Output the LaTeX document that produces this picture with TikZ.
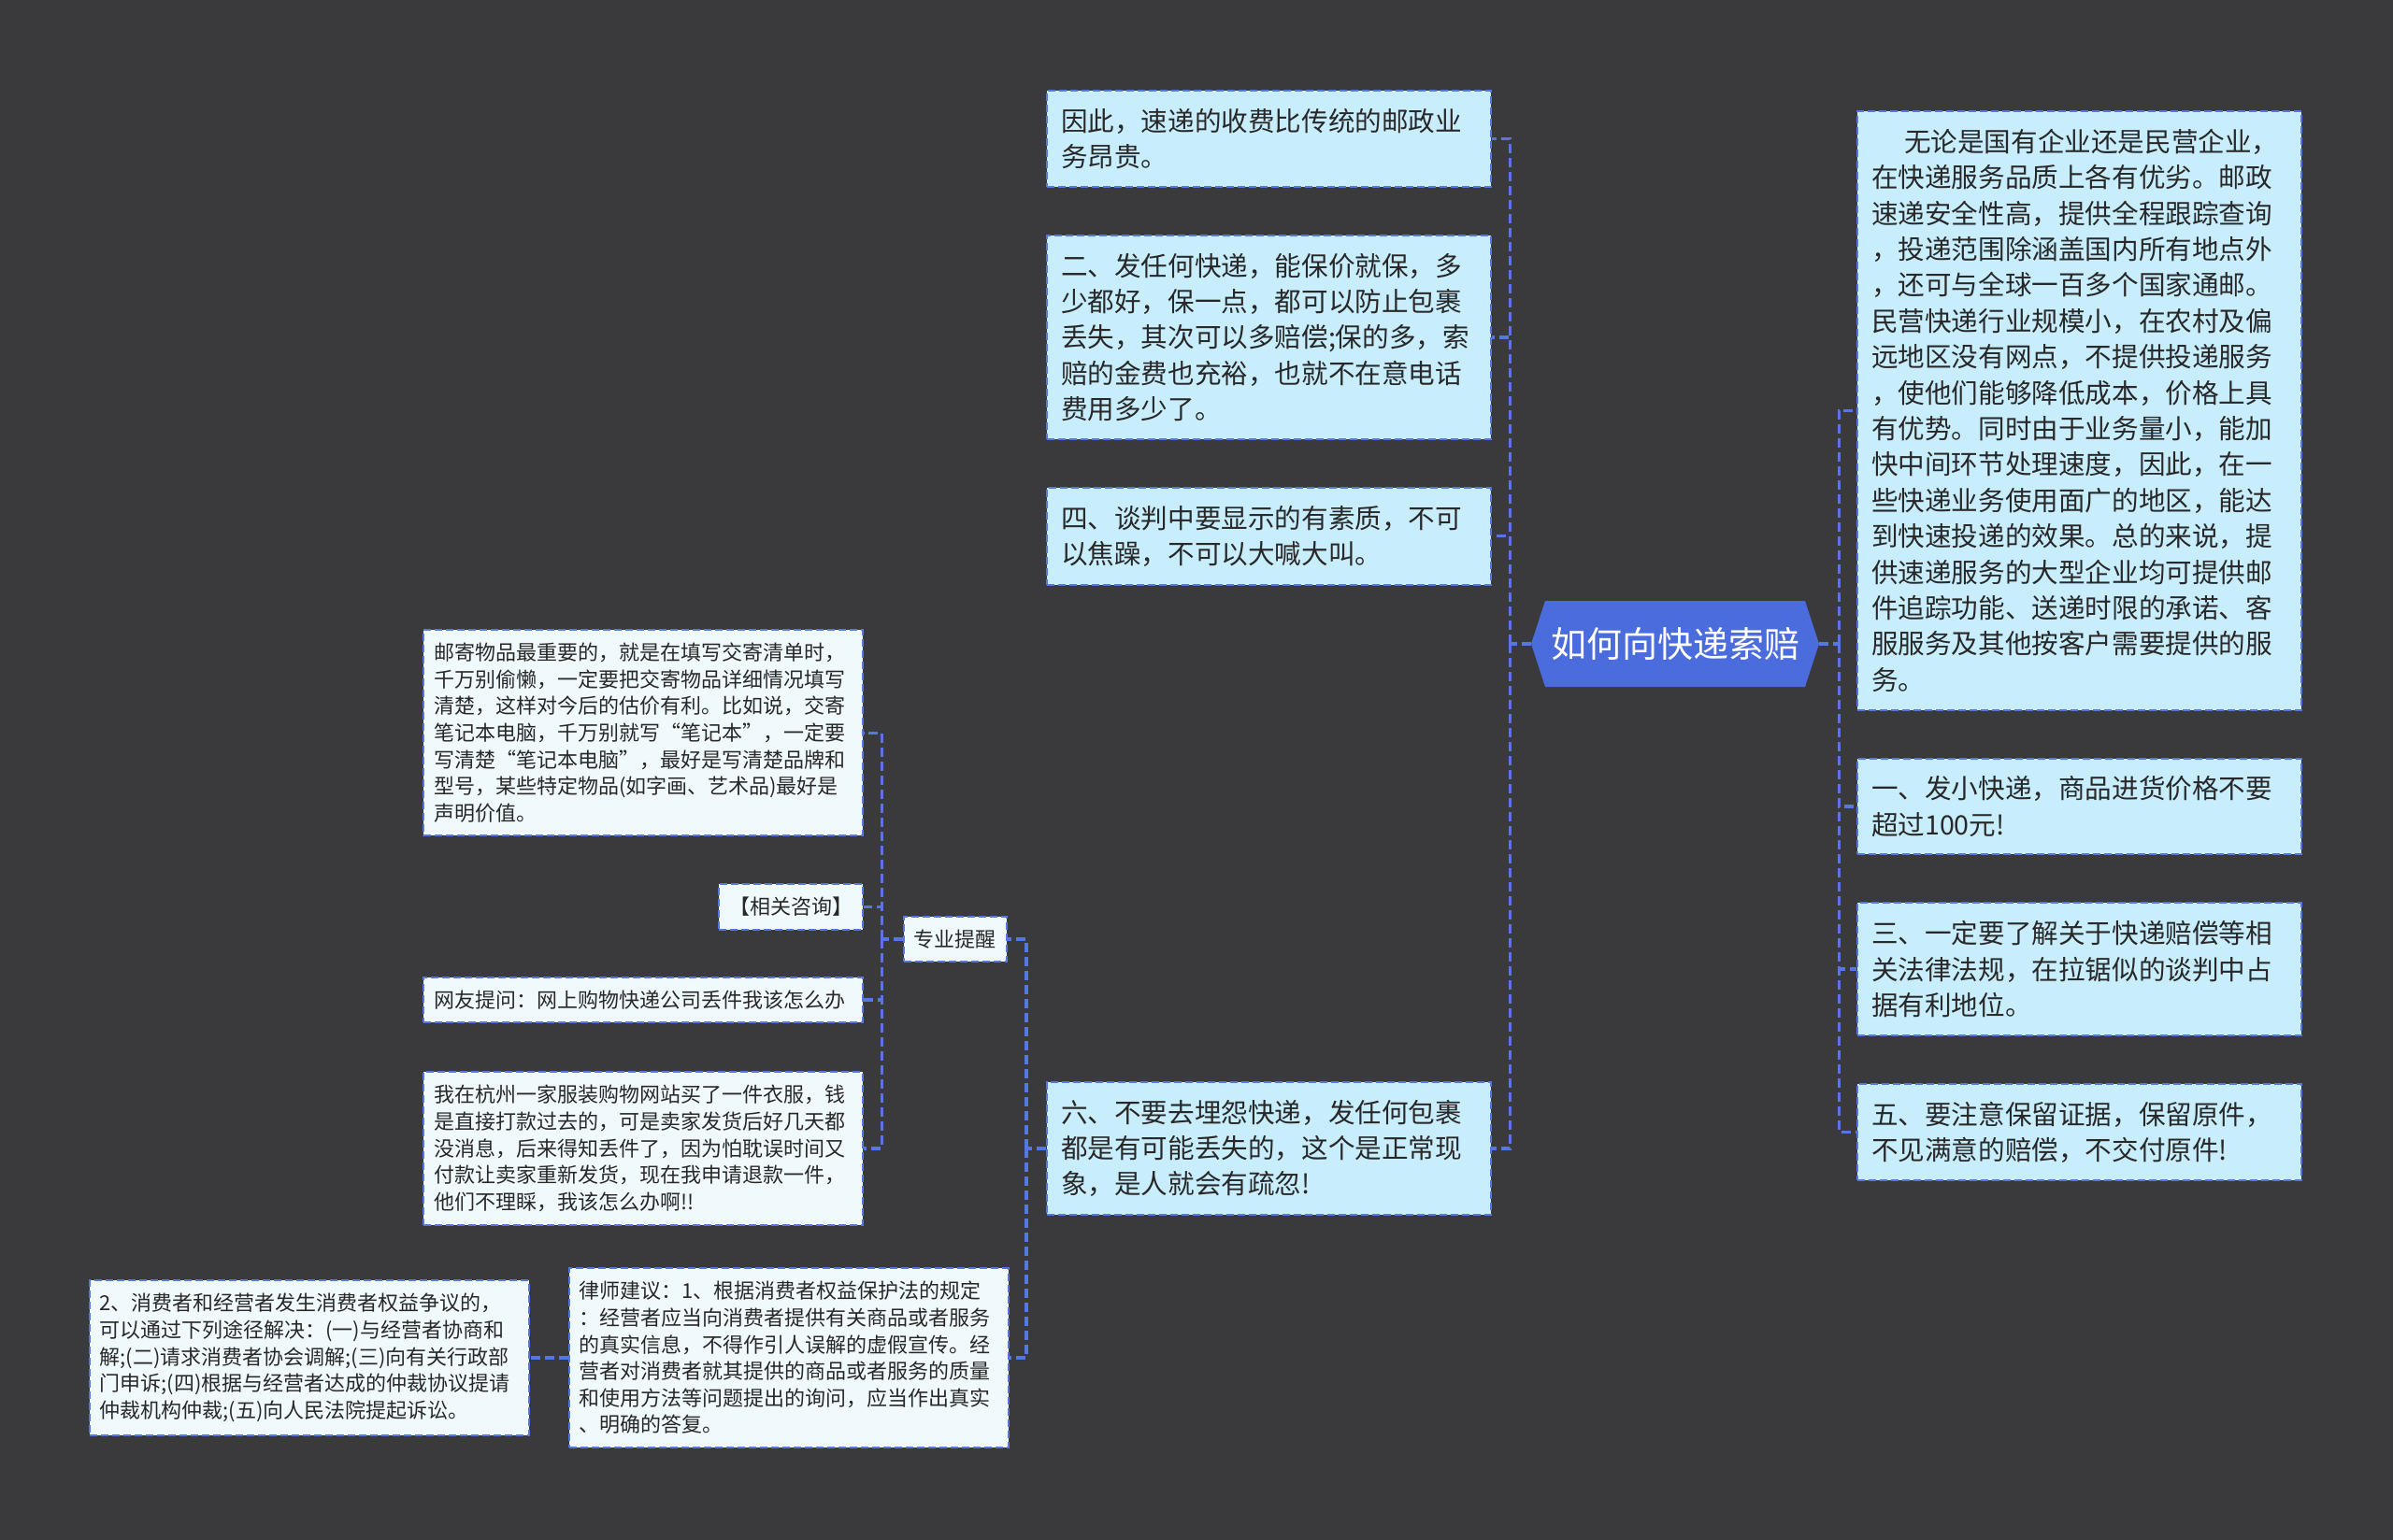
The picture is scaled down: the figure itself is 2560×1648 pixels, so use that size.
\documentclass[tikz,border=0pt]{standalone}
\usepackage{fontspec}
\newfontfamily\cjk{Noto Sans CJK SC}
\usepackage{tikz}
\usetikzlibrary{positioning,calc}

\definecolor{bgdark}{RGB}{58,57,59}
\definecolor{rootblue}{RGB}{74,108,220}
\definecolor{linkblue}{RGB}{86,118,226}
\definecolor{cyanfill}{RGB}{200,237,252}
\definecolor{palefill}{RGB}{240,250,253}
\definecolor{inkgray}{RGB}{40,40,40}

\begin{document}
\begin{tikzpicture}[
  x=1pt, y=-1pt,
  font=\cjk,
  node distance=50pt,
  rootbox/.style={text=white, font=\cjk\fontsize{38pt}{46pt}\selectfont, minimum width=308pt, minimum height=92pt, inner sep=0pt},
  lvone/.style={draw=linkblue, dash pattern=on 8pt off 4pt, line width=2pt, fill=cyanfill, text=inkgray, font=\cjk\fontsize{28.6pt}{38.4pt}\selectfont, text width=445pt, align=left, inner xsep=15pt, inner ysep=19pt},
  lvtwo/.style={draw=linkblue, dash pattern=on 8pt off 4pt, line width=2pt, fill=palefill, text=inkgray, font=\cjk\fontsize{22pt}{28.6pt}\selectfont, align=left, inner xsep=11pt, inner ysep=14pt},
  lvtwowide/.style={lvtwo, text width=448pt},
  link/.style={draw=linkblue, line width=3.2pt, dash pattern=on 10pt off 5pt}
]
  \fill[bgdark] (0,0) rectangle (2560,1648);
  \useasboundingbox (0,0) rectangle (2560,1648);

  % root
  \coordinate (rootc) at (1792,689);
  \fill[rootblue] (rootc) ++(-139,-46) -- ++(278,0) -- ++(15,46) -- ++(-15,46) -- ++(-278,0) -- ++(-15,-46) -- cycle;
  \node[rootbox] (root) at (rootc) {如何向快递索赔};

  % left column
  \node[lvone, anchor=north] (yinci) at (1357.5,96) {因此，速递的收费比传统的邮政业\\务昂贵。};
  \node[lvone, below=of yinci] (er) {二、发任何快递，能保价就保，多\\少都好，保一点，都可以防止包裹\\丢失，其次可以多赔偿;保的多，索\\赔的金费也充裕，也就不在意电话\\费用多少了。};
  \node[lvone, below=of er] (si) {四、谈判中要显示的有素质，不可\\以焦躁，不可以大喊大叫。};
  \node[lvone] (liu) at (1357.5,1229) {六、不要去埋怨快递，发任何包裹\\都是有可能丢失的，这个是正常现\\象，是人就会有疏忽!};

  % right column
  \node[lvone, anchor=north] (wulun) at (2224.5,118) {\hspace*{35pt}无论是国有企业还是民营企业，\\在快递服务品质上各有优劣。邮政\\速递安全性高，提供全程跟踪查询\\，投递范围除涵盖国内所有地点外\\，还可与全球一百多个国家通邮。\\民营快递行业规模小，在农村及偏\\远地区没有网点，不提供投递服务\\，使他们能够降低成本，价格上具\\有优势。同时由于业务量小，能加\\快中间环节处理速度，因此，在一\\些快递业务使用面广的地区，能达\\到快速投递的效果。总的来说，提\\供速递服务的大型企业均可提供邮\\件追踪功能、送递时限的承诺、客\\服服务及其他按客户需要提供的服\\务。};
  \node[lvone, below=of wulun] (yi) {一、发小快递，商品进货价格不要\\超过100元!};
  \node[lvone, below=of yi] (san) {三、一定要了解关于快递赔偿等相\\关法律法规，在拉锯似的谈判中占\\据有利地位。};
  \node[lvone, below=of san] (wu) {五、要注意保留证据，保留原件，\\不见满意的赔偿，不交付原件!};

  % branch of liu
  \node[lvtwo] (tixing) at (1021.5,1005) {专业提醒};
  \node[lvtwowide] (lvshi) at (843.5,1453) {律师建议：1、根据消费者权益保护法的规定\\：经营者应当向消费者提供有关商品或者服务\\的真实信息，不得作引人误解的虚假宣传。经\\营者对消费者就其提供的商品或者服务的质量\\和使用方法等问题提出的询问，应当作出真实\\、明确的答复。};
  \node[lvtwowide, left=41pt of lvshi] (zhengyi) {2、消费者和经营者发生消费者权益争议的，\\可以通过下列途径解决：(一)与经营者协商和\\解;(二)请求消费者协会调解;(三)向有关行政部\\门申诉;(四)根据与经营者达成的仲裁协议提请\\仲裁机构仲裁;(五)向人民法院提起诉讼。};

  % branch of tixing
  \node[lvtwowide, anchor=north east] (youji) at (924,673) {邮寄物品最重要的，就是在填写交寄清单时，\\千万别偷懒，一定要把交寄物品详细情况填写\\清楚，这样对今后的估价有利。比如说，交寄\\笔记本电脑，千万别就写“笔记本”，一定要\\写清楚“笔记本电脑”，最好是写清楚品牌和\\型号，某些特定物品(如字画、艺术品)最好是\\声明价值。};
  \node[lvtwo, below left=50pt and 0pt of youji.south east] (zixun) {【相关咨询】};
  \node[lvtwowide, below left=49pt and 0pt of zixun.south east] (wangyou) {网友提问：网上购物快递公司丢件我该怎么办};
  \node[lvtwowide, below left=51pt and 0pt of wangyou.south east] (hangzhou) {我在杭州一家服装购物网站买了一件衣服，钱\\是直接打款过去的，可是卖家发货后好几天都\\没消息，后来得知丢件了，因为怕耽误时间又\\付款让卖家重新发货，现在我申请退款一件，\\他们不理睬，我该怎么办啊!!};

  % connectors
  \draw[link] (root.west) -- ++(-22,0) coordinate (lbus);
  \foreach \kid in {yinci,er,si,liu} \draw[link] (lbus) |- (\kid.east);
  \draw[link] (root.east) -- ++(21,0) coordinate (rbus);
  \foreach \kid in {wulun,yi,san,wu} \draw[link] (rbus) |- (\kid.west);
  \draw[link] (liu.west) -- ++(-21,0) coordinate (liubus);
  \foreach \kid in {tixing,lvshi} \draw[link] (liubus) |- (\kid.east);
  \draw[link] (tixing.west) -- ++(-22,0) coordinate (txbus);
  \foreach \kid in {youji,zixun,wangyou,hangzhou} \draw[link] (txbus) |- (\kid.east);
  \draw[link] (lvshi.west) -- (zhengyi.east);
\end{tikzpicture}
\end{document}
